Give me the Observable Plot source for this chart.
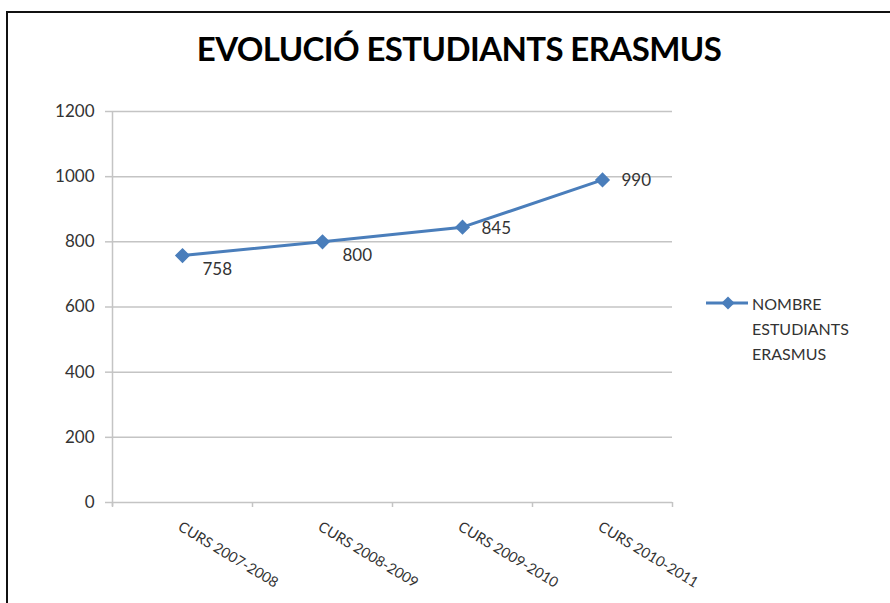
<!DOCTYPE html>
<html>
<head>
<meta charset="utf-8">
<script src="https://cdn.jsdelivr.net/npm/d3@7"></script>
<script src="https://cdn.jsdelivr.net/npm/@observablehq/plot@0.6"></script>
<style>
  html, body { margin: 0; padding: 0; background: #fff; }
  #wrap { position: relative; width: 890px; height: 603px; overflow: hidden; font-family: Lato, "Open Sans", sans-serif; }
  #frame { position: absolute; left: 6px; top: 11px; width: 900px; height: 700px; border-top: 2px solid #111; border-left: 2px solid #111; }
  #title { position: absolute; left: 0; width: 918px; top: 28px; text-align: center; font: bold 33px Lato, sans-serif; letter-spacing: -0.6px; color: #000; }
  #chart { position: absolute; left: 0; top: 0; }
  #legend { position: absolute; left: 700px; top: 290px; font: 16px Lato, sans-serif; color: #333; }
  #legend svg { position: absolute; left: 0; top: 0; }
  #legend .lbl { position: absolute; left: 52px; top: 1px; line-height: 25px; white-space: nowrap; }
</style>
</head>
<body>
<div id="wrap">
  <div id="frame"></div>
  <div id="title">EVOLUCIÓ ESTUDIANTS ERASMUS</div>
  <div id="chart"></div>
  <div id="legend"></div>
</div>
<script>
const categories = ["CURS 2007-2008", "CURS 2008-2009", "CURS 2009-2010", "CURS 2010-2011"];
const values = [758, 800, 845, 990];
const yTicks = [0, 200, 400, 600, 800, 1000, 1200];
const seriesName = ["NOMBRE", "ESTUDIANTS", "ERASMUS"];

const lineColor = "#4A7EBB";
const gridColor = "#c4c4c4";
const textColor = "#333";

const rows = categories.map((c, i) => ({cat: c, i, val: values[i], pos: i + 0.5}));
const boundaries = d3.range(0, categories.length + 1);
const yMin = yTicks[0], yMax = yTicks[yTicks.length - 1];

const chart = Plot.plot({
  width: 890,
  height: 603,
  marginLeft: 112,
  marginRight: 218,
  marginTop: 111,
  marginBottom: 101,
  style: {fontFamily: "Lato, sans-serif", background: "transparent", overflow: "visible"},
  x: {type: "linear", domain: [0, categories.length], axis: null},
  y: {type: "linear", domain: [yMin, yMax], axis: null},
  marks: [
    Plot.ruleY(yTicks.filter(d => d > yMin), {stroke: gridColor, strokeWidth: 1.5}),
    Plot.axisY({ticks: yTicks, tickSize: 7, tickPadding: 11, stroke: gridColor, strokeWidth: 1.5, fontSize: 17, color: textColor, label: null, tickFormat: d => String(d)}),
    Plot.ruleX([0], {y1: yMax, y2: yMin, stroke: gridColor, strokeWidth: 1.5, insetBottom: -4}),
    Plot.ruleY([yMin], {stroke: gridColor, strokeWidth: 1.5}),
    Plot.ruleX(boundaries, {x: d => d, y1: yMin, y2: yMin, stroke: gridColor, strokeWidth: 1.5, insetBottom: -5}),
    Plot.text(rows, {x: "pos", y: () => yMin, text: "cat", rotate: 31, textAnchor: "start", dx: -3, dy: 23, fontSize: 14.5, fill: textColor}),
    Plot.line(rows, {x: "pos", y: "val", stroke: lineColor, strokeWidth: 3}),
    Plot.dot(rows, {x: "pos", y: "val", symbol: "diamond2", r: 5.9, fill: lineColor, stroke: lineColor}),
    Plot.text(rows.slice(0, 2), {x: "pos", y: "val", text: d => String(d.val), textAnchor: "start", dx: 20, dy: 14, fontSize: 17, fill: textColor}),
    Plot.text(rows.slice(2), {x: "pos", y: "val", text: d => String(d.val), textAnchor: "start", dx: 19, dy: 1, fontSize: 17, fill: textColor})
  ]
});
document.getElementById("chart").appendChild(chart);

// legend
const legend = d3.select("#legend");
const lsvg = legend.append("svg").attr("width", 52).attr("height", 30);
lsvg.append("line").attr("x1", 6).attr("x2", 48).attr("y1", 13).attr("y2", 13)
  .attr("stroke", lineColor).attr("stroke-width", 3);
lsvg.append("path").attr("d", d3.symbol(d3.symbolDiamond2, Math.PI * 5.9 * 5.9)())
  .attr("transform", "translate(28,13)").attr("fill", lineColor);
legend.append("div").attr("class", "lbl").html(seriesName.join("<br>"));
</script>
</body>
</html>
